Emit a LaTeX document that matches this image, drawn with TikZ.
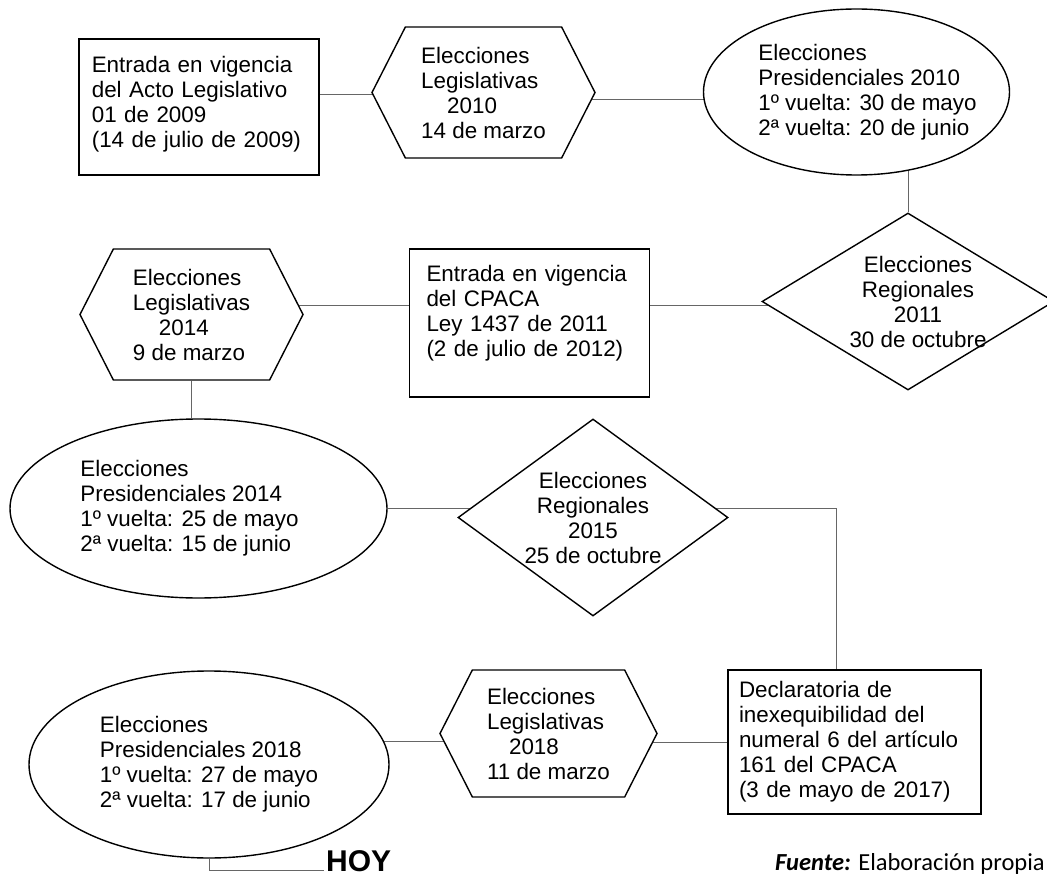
\documentclass[tikz,border=0pt]{standalone}
\usepackage{fontspec}
\setmainfont{Liberation Sans}
\newfontfamily\fuentefont{Carlito}
\usetikzlibrary{shapes.geometric,shapes.symbols,backgrounds}

\tikzset{forma/.style = {draw, line width=1.4pt, fill=white, align=left},
         caja/.style = {forma, rectangle, inner xsep=#1, inner ysep=0pt},
         caja/.default = 17pt,
         hexa/.style = {forma, signal, signal to=east and west,
                        signal pointer angle=126, inner sep=0pt,
                        minimum width=223pt, minimum height=131pt},
         ovalo/.style = {forma, ellipse, inner xsep=-8pt, inner ysep=0pt},
         rombo/.style = {forma, diamond, align=center, inner sep=0pt}
        }

\begin{document}
\begin{tikzpicture}[x=1pt,y=-1pt]
  \tikzstyle{every node}=[font=\fontsize{22.4}{25}\selectfont]
  \tikzstyle{enlace}=[draw=black!60, line width=1pt]
  \useasboundingbox (0,0) rectangle (1047,877);
  \node[caja=13pt, text width=214pt, minimum height=136pt] (cajaA) at (198.8,107)
       {Entrada en vigencia\\del Acto Legislativo\\01 de 2009\\(14 de julio de 2009)\\[-14pt]~};
  \node[hexa] (hexA) at (483.5,92.5)
       {Elecciones\\Legislativas\\\hspace*{26pt}2010\\14 de marzo};
  \node[ovalo, inner xsep=-12pt, minimum width=306pt, minimum height=166pt] (ovaloA) at (856.5,92)
       {\hspace*{22pt}Elecciones\\\hspace*{22pt}Presidenciales 2010\\\hspace*{22pt}1º vuelta: 30 de mayo\\\hspace*{22pt}2ª vuelta: 20 de junio};
  \node[rombo, inner xsep=-10pt, aspect=1.65, minimum width=292pt, minimum height=177pt] (rombA) at (908,301.5)
       {\hspace*{20pt}Elecciones\\\hspace*{20pt}Regionales\\\hspace*{20pt}2011\\\hspace*{20pt}30 de octubre};
  \node[hexa] (hexB) at (191.5,314.5)
       {Elecciones\\Legislativas\\\hspace*{26pt}2014\\9 de marzo};
  \node[caja, text width=206pt, minimum height=148pt] (cajaB) at (529.5,323)
       {Entrada en vigencia\\del CPACA\\Ley 1437 de 2011\\(2 de julio de 2012)\\~};
  \node[ovalo, minimum width=377pt, minimum height=179pt] (ovaloB) at (198.5,508.5)
       {Elecciones\\Presidenciales 2014\\1º vuelta: 25 de mayo\rule{18pt}{0pt}\\2ª vuelta: 15 de junio};
  \node[rombo, aspect=1.37, minimum width=270pt, minimum height=197pt] (rombB) at (593,517.5)
       {Elecciones\\Regionales\\2015\\25 de octubre};
  \node[ovalo, minimum width=360pt, minimum height=187pt] (ovaloC) at (209,764.5)
       {Elecciones\\Presidenciales 2018\\1º vuelta: 27 de mayo\\2ª vuelta: 17 de junio};
  \node[hexa, minimum width=217pt, minimum height=127pt] (hexC) at (548.5,733.5)
       {Elecciones\\Legislativas\\\hspace*{22pt}2018\\11 de marzo};
  \node[caja=11pt, text width=231pt, minimum height=144pt] (cajaC) at (854.5,742)
       {Declaratoria de\\inexequibilidad del\\numeral 6 del artículo\\161 del CPACA\\(3 de mayo de 2017)};
  \node[font=\bfseries\fontsize{30}{30}\selectfont, inner sep=2pt, anchor=base west] (hoy) at (324,871) {HOY};
  \node[font=\fuentefont\fontsize{24.5}{30}\selectfont, inner sep=0pt, anchor=base west] (fuente) at (775,870)
       {\textbf{\textit{Fuente:}} Elaboración propia};
  \begin{pgfonlayer}{background}
    \fill[white] (0,0) rectangle (1047,877);
    \draw[enlace] ([yshift=-2.5pt]hexA.center) -- ([yshift=-2.5pt]hexA.center -| cajaA.center);
    \draw[enlace] ([yshift=-7pt]hexA.center) -- ([yshift=-7pt]hexA.center -| ovaloA.center);
    \draw[enlace] (rombA.north) -- (rombA.north |- ovaloA.-55);
    \draw[enlace] ([yshift=8.5pt]hexB.center) -- ([yshift=8.5pt]hexB.center -| cajaB.center);
    \draw[enlace] ([yshift=-4.5pt]rombA.center) -- ([yshift=-4.5pt]rombA.center -| cajaB.center);
    \draw[enlace] (hexB.south) -- (hexB.south |- ovaloB.north);
    \draw[enlace] (ovaloB.east) -- (ovaloB.east -| rombB.center);
    \draw[enlace] (rombB.center |- ovaloB.east) -| ([xshift=-18.5pt]cajaC.north);
    \draw[enlace] ([yshift=-8pt]hexC.center) -- ([yshift=-8pt]hexC.center -| ovaloC.center);
    \draw[enlace] (cajaC.west) -- (cajaC.west -| hexC.center);
    \draw[enlace] (ovaloC.south) |- ([yshift=1pt]hoy.base west);
  \end{pgfonlayer}
\end{tikzpicture}
\end{document}
